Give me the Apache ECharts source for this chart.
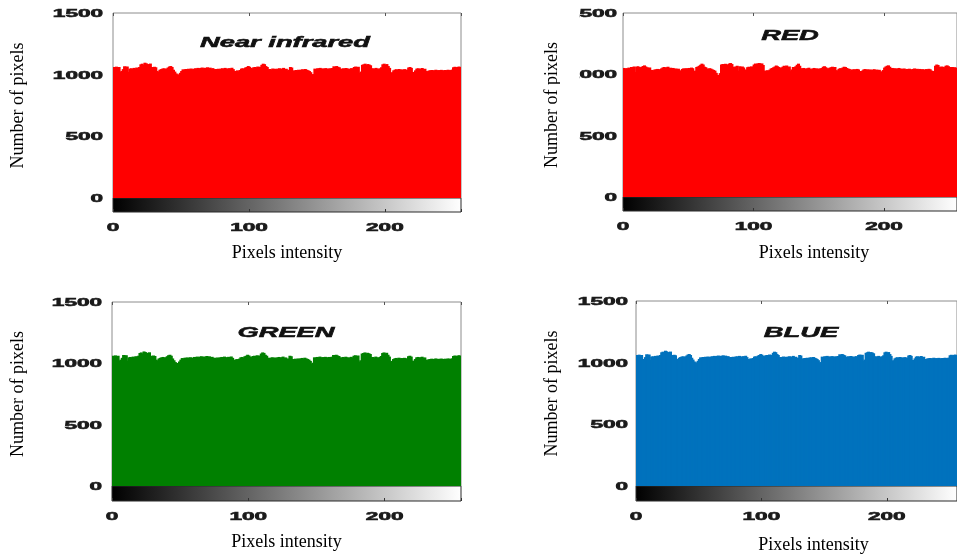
<!DOCTYPE html>
<html>
<head>
<meta charset="utf-8">
<title>Band histograms</title>
<script src="https://cdn.jsdelivr.net/npm/echarts@6/dist/echarts.min.js"></script>
<style>
  html, body { margin: 0; padding: 0; background: #fff; }
  #chart { width: 957px; height: 556px; }
</style>
</head>
<body>
<div id="chart"></div>
<script>
// Pixel counts per intensity level (0..255).
// The near-infrared, green and blue bands share the same histogram.
const nirGreenBlueCounts = [
  1062,1058,1065,1060,1062,
  1022,1030,1045,
  1068,1064,1066,
  1022,
  1049,1052,1046,1055,1050,1058,1054,1062,
  1084,1089,1078,1097,1092,1086,1080,1090,
  1062,1058,1064,1060,
  1030,1022,1040,1045,
  1049,1052,1045,1050,1058,1066,1070,1062,
  1040,1025,1010,1003,998,1015,1030,
  1043,1040,1046,1045,1048,1042,1050,1044,1047,1052,1049,1055,1050,
  1054,1058,1052,1056,1050,1060,1054,1057,1048,1053,
  1043,1046,1040,1048,1044,
  1049,1052,1046,1055,1050,1047,1053,1049,1056,1045,
  1030,1027,1035,1025,1038,
  1049,1052,1046,1058,1062,1070,1064,1055,1050,1060,
  1062,1058,1066,1060,1064,1080,1089,1085,1070,1062,
  1043,1046,1040,1050,1044,1048,1042,
  1049,1052,1046,1050,1055,1045,1048,
  1035,1040,1062,1058,1035,1030,1038,1032,1040,1036,
  1041,1044,1038,1046,1040,1036,1030,1020,
  995,1005,
  1049,1046,1052,1050,1055,1047,1051,1048,1053,1050,1046,1052,1049,1054,
  1068,1062,1070,1064,1060,
  1049,1045,1052,1048,1054,1050,1044,1049,1053,1047,
  1062,1066,1060,1064,
  1014,1025,
  1080,1084,1089,1078,1086,1082,1076,
  1049,1052,1046,1055,1050,1044,1052,
  1060,1084,1089,1080,
  1086,1070,1055,
  1014,1020,1035,
  1041,1044,1038,1046,1040,1043,1037,1045,1041,1039,
  1058,1062,1055,
  1022,1018,1035,
  1049,1052,1046,1050,1054,1045,1048,
  1030,1026,1034,
  1035,1038,1033,1036,1040,1034,1037,1035,1039,1036,1033,1038,1035,1040,1037,1036,1041,
  1060,1064,1058,1062,1066,1062
];

const redCounts = [
  1052,1046,1050,1048,1055,1050,
  1060,1058,1064,
  1019,
  1062,1066,1060,
  1055,1062,1068,1073,1064,1058,1052,1056,
  1033,1036,1030,1040,
  1040,1044,1038,1042,
  1048,1055,1060,1052,1058,1062,1050,1054,1046,1052,
  1044,1048,1042,1046,1033,1028,1044,1049,1045,
  1050,1046,1052,1048,1055,1050,
  1022,1030,
  1060,1064,1070,1078,1087,1080,1062,1058,
  1048,1044,1050,1046,1040,1036,1030,
  1012,995,992,1010,
  1080,1084,1078,1086,1082,1070,1088,1092,1084,
  1062,1058,1064,
  1070,1030,1066,
  1060,1064,1056,1040,1036,1058,1062,1060,1065,1058,
  1080,1088,1084,1090,1092,1086,1089,1076,
  1030,1026,1034,1028,1038,
  1048,1052,1058,1064,1072,1066,1060,1050,1055,1062,
  1070,1066,1072,1060,1064,
  1026,1040,
  1060,1058,1066,1078,1087,1070,
  1050,1046,1052,1048,1044,1050,1054,1046,1040,1048,1052,1045,1049,1043,1047,
  1048,1052,1062,1066,1058,1050,1046,1054,
  1058,1062,1055,1060,1034,1030,
  1045,1050,1048,1055,1062,1060,1052,1047,1044,1030,
  1040,1038,1042,1036,1044,1040,1027,1024,1030,1039,1043,1037,1041,
  1036,1040,1034,1038,1042,1035,1039,1033,1037,1025,1019,1035,
  1055,1064,1070,1073,1062,1048,1052,1046,1050,1044,1048,1052,1046,
  1046,1042,1048,1040,1044,1038,1046,1042,1036,1044,1048,1040,1045,
  1041,1044,1038,1042,1040,1036,1043,1039,1045,1041,1030,
  1019,1028,
  1070,1080,1076,1062,1058,1064,1060,1056,1070,1073,1066,1060,
  1056,1060,1054,1058,1052
];

const bandTitles = ['Near infrared', 'RED', 'GREEN', 'BLUE'];
const bandCounts = [nirGreenBlueCounts, redCounts, nirGreenBlueCounts, nirGreenBlueCounts];
const yTickValues = [0, 500, 1000, 1500];
const xTickValues = [0, 100, 200];
const yAxisTitle = 'Number of pixels';
const xAxisTitle = 'Pixels intensity';

// Intensity levels 0..255 used as histogram bins.
const intensityLevels = [];
for (let i = 0; i < 256; i++) intensityLevels.push(i);

// Panel geometry and styling.
const bandColors = ['#ff0000', '#ff0000', '#008000', '#0072bd'];
const layout = [
  { left: 113, top: 13,  width: 348, plotH: 185, barH: 14, yGap: 86, xGap: 32, xPad: 0,  labelGap: 10, title: [285, 43] },
  { left: 623, top: 13,  width: 342, plotH: 184, barH: 14, yGap: 62, xGap: 33, xPad: 48, labelGap: 6,  title: [790, 36] },
  { left: 112, top: 302, width: 349, plotH: 184, barH: 15, yGap: 85, xGap: 32, xPad: 0,  labelGap: 10, title: [286, 333] },
  { left: 636, top: 301, width: 330, plotH: 185, barH: 15, yGap: 75, xGap: 35, xPad: 34, labelGap: 8,  title: [801, 333] }
];

const chart = echarts.init(document.getElementById('chart'), null, { renderer: 'canvas' });

const grayRamp = {
  type: 'linear', x: 0, y: 0, x2: 1, y2: 0,
  colorStops: [{ offset: 0, color: '#000000' }, { offset: 1, color: '#ffffff' }]
};

const grids = [], xAxes = [], yAxes = [], series = [];
layout.forEach((p, k) => {
  grids.push({
    left: p.left, top: p.top, width: p.width, height: p.plotH,
    show: true, borderColor: '#8c8c8c', borderWidth: 1, backgroundColor: '#fff'
  });
  grids.push({
    left: p.left, top: p.top + p.plotH, width: p.width, height: p.barH,
    show: true, borderColor: '#2b2b2b', borderWidth: 1, backgroundColor: grayRamp
  });

  // histogram bins
  xAxes.push({
    type: 'category', gridIndex: 2 * k, data: intensityLevels, show: false
  });
  // tick marks along the top edge
  xAxes.push({
    type: 'value', gridIndex: 2 * k, position: 'top', min: 0, max: 256, interval: 100,
    axisLine: { show: false },
    axisTick: { show: true, inside: true, length: 3, lineStyle: { color: '#555' } },
    axisLabel: { show: false }, splitLine: { show: false }
  });
  // intensity scale under the gray ramp
  xAxes.push({
    type: 'value', gridIndex: 2 * k + 1, position: 'bottom', min: 0, max: 256, interval: 100,
    axisLine: { show: false },
    axisTick: { show: true, inside: true, length: 3, lineStyle: { color: '#333' } },
    axisLabel: { show: false }, splitLine: { show: false },
    name: xAxisTitle, nameLocation: 'middle', nameGap: p.xGap,
    nameTextStyle: {
      fontFamily: '"Liberation Serif", "Times New Roman", serif', fontSize: 18, color: '#000',
      padding: [0, 0, 0, p.xPad]
    }
  });

  yAxes.push({
    type: 'value', gridIndex: 2 * k, min: 0, max: 1500, interval: 500,
    axisLine: { show: false }, axisTick: { show: false },
    axisLabel: { show: false }, splitLine: { show: false },
    name: yAxisTitle, nameLocation: 'middle', nameGap: p.yGap,
    nameTextStyle: {
      fontFamily: '"Liberation Serif", "Times New Roman", serif', fontSize: 18, color: '#000'
    }
  });
  yAxes.push({ type: 'value', gridIndex: 2 * k + 1, min: 0, max: 1, show: false });

  // Each bin is drawn slightly wider than its band so neighbours overlap
  // and the histogram reads as one solid block.
  series.push({
    type: 'bar',
    xAxisIndex: 3 * k, yAxisIndex: 2 * k,
    data: bandCounts[k],
    barWidth: 3,
    barGap: '-100%',
    itemStyle: { color: bandColors[k], borderWidth: 0 },
    silent: true
  });
});

chart.setOption({
  animation: false,
  backgroundColor: '#fff',
  grid: grids,
  xAxis: xAxes,
  yAxis: yAxes,
  series: series
});

// Heavy, horizontally stretched tick labels and panel titles.
const tickFont = 'bold 11px "Liberation Sans", Arial, sans-serif';
const titleFont = 'italic bold 14px "Liberation Sans", Arial, sans-serif';
const stretch = 2.05;
const ink = '#1a1a1a';
const elements = [];
layout.forEach((p, k) => {
  yTickValues.forEach(v => {
    const py = chart.convertToPixel({ yAxisIndex: 2 * k }, v);
    elements.push({
      type: 'text', x: p.left - p.labelGap, y: py + 1, scaleX: stretch, z: 10, silent: true,
      style: { text: String(v), font: tickFont, fill: ink, stroke: ink, lineWidth: 0.6,
               align: 'right', verticalAlign: 'middle' }
    });
  });
  xTickValues.forEach(v => {
    const px = chart.convertToPixel({ xAxisIndex: 3 * k + 2 }, v);
    elements.push({
      type: 'text', x: px, y: p.top + p.plotH + p.barH + 16, scaleX: stretch, z: 10, silent: true,
      style: { text: String(v), font: tickFont, fill: ink, stroke: ink, lineWidth: 0.6,
               align: 'center', verticalAlign: 'middle' }
    });
  });
  elements.push({
    type: 'text', x: p.title[0], y: p.title[1], scaleX: 1.95, z: 10, silent: true,
    style: { text: bandTitles[k], font: titleFont, fill: '#111', stroke: '#111', lineWidth: 0.5,
             align: 'center', verticalAlign: 'middle' }
  });
});
// The RED panel is trimmed on its left margin.
elements.push({
  type: 'rect', z: 20, silent: true,
  shape: { x: 560, y: 0, width: 19, height: 222 },
  style: { fill: '#ffffff' }
});

chart.setOption({ graphic: elements });
</script>
</body>
</html>
